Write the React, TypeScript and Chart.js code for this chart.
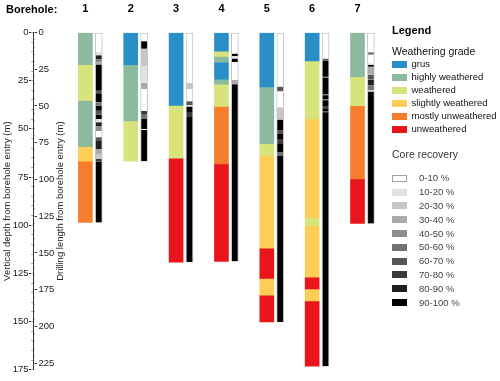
import React, { useEffect, useRef } from 'react';
import { Chart, registerables } from 'chart.js';

Chart.register(...registerables);

const FONT = "'Liberation Sans', Arial, Helvetica, sans-serif";

// ---------- categories / classes ----------
const BOREHOLES = ['1', '2', '3', '4', '5', '6', '7'];

const WEATHERING_GRADES = [
  'grus',
  'highly weathered',
  'weathered',
  'slightly weathered',
  'mostly unweathered',
  'unweathered',
];
const WEATHERING_COLORS = ['#2a8fc7', '#8bba9f', '#d9e37c', '#fdcd56', '#f67d2e', '#e8161b'];

const RECOVERY_CLASSES = [
  '0-10 %', '10-20 %', '20-30 %', '30-40 %', '40-50 %',
  '50-60 %', '60-70 %', '70-80 %', '80-90 %', '90-100 %',
];
const RECOVERY_COLORS = [
  '#ffffff', '#e2e2e2', '#c6c6c6', '#aaaaaa', '#8e8e8e',
  '#717171', '#555555', '#3a3a3a', '#1f1f1f', '#000000',
];

// ---------- axes ----------
const VERTICAL_DEPTH_MAX = 175; // m
const DRILLING_LENGTH_MAX = 229.5; // m
const MAJOR_STEP = 25;
const MINOR_STEP = 5;

// ---------- weathering logs: [from (m drilled), to (m drilled), grade index] ----------
const WEATHERING_1 = [[0, 21.9, 1], [21.9, 46.7, 2], [46.7, 77.7, 1], [77.7, 87.6, 3], [87.6, 129.2, 4]];
const WEATHERING_2 = [[0, 21.9, 0], [21.9, 60.2, 1], [60.2, 87.6, 2]];
const WEATHERING_3 = [[0, 49.6, 0], [49.6, 85.5, 2], [85.5, 156.2, 5]];
const WEATHERING_4 = [[0, 12.7, 0], [12.7, 16.7, 2], [16.7, 20.6, 1], [20.6, 31.8, 0], [31.8, 35.2, 1], [35.2, 50.3, 2], [50.3, 89.4, 4], [89.4, 155.7, 5]];
const WEATHERING_5 = [[0, 37.0, 0], [37.0, 75.7, 1], [75.7, 84.0, 2], [84.0, 146.7, 3], [146.7, 167.7, 5], [167.7, 178.7, 3], [178.7, 196.9, 5]];
const WEATHERING_6 = [[0, 19.4, 0], [19.4, 58.8, 2], [58.8, 126.5, 3], [126.5, 131.4, 2], [131.4, 166.5, 3], [166.5, 174.9, 5], [174.9, 182.7, 3], [182.7, 227.0, 5]];
const WEATHERING_7 = [[0, 30.0, 1], [30.0, 49.8, 2], [49.8, 99.7, 4], [99.7, 129.9, 5]];

// ---------- core recovery logs: [from, to, recovery class index] ----------
const RECOVERY_1 = [[0, 13.2, 0], [13.2, 15.4, 1], [15.4, 18.4, 8], [18.4, 19.9, 5], [19.9, 21.7, 3], [21.7, 39.7, 9], [39.7, 41.3, 6], [41.3, 47.6, 9], [47.6, 49.8, 5], [49.8, 53.2, 9], [53.2, 55.9, 6], [55.9, 58.8, 9], [58.8, 61.1, 1], [61.1, 64.0, 8], [64.0, 67.1, 4], [67.1, 71.2, 0], [71.2, 73.9, 6], [73.9, 79.3, 8], [79.3, 82.6, 3], [82.6, 86.0, 2], [86.0, 88.0, 7], [88.0, 129.2, 9]];
const RECOVERY_2 = [[0, 5.9, 0], [5.9, 11.1, 9], [11.1, 22.8, 2], [22.8, 34.1, 1], [34.1, 38.6, 3], [38.6, 53.2, 0], [53.2, 55.9, 7], [55.9, 58.8, 5], [58.8, 65.6, 9], [65.6, 66.4, 0], [66.4, 87.6, 9]];
const RECOVERY_3 = [[0, 34.3, 0], [34.3, 38.6, 2], [38.6, 46.7, 0], [46.7, 49.6, 6], [49.6, 50.3, 0], [50.3, 54.1, 9], [54.1, 57.0, 7], [57.0, 156.2, 9]];
const RECOVERY_4 = [[0, 14.3, 0], [14.3, 16.1, 9], [16.1, 17.7, 1], [17.7, 20.1, 9], [20.1, 32.2, 0], [32.2, 35.2, 3], [35.2, 155.7, 9]];
const RECOVERY_5 = [[0, 36.8, 0], [36.8, 40.1, 6], [40.1, 50.9, 0], [50.9, 59.2, 2], [59.2, 66.3, 9], [66.3, 68.5, 6], [68.5, 72.5, 9], [72.5, 75.9, 7], [75.9, 81.3, 9], [81.3, 84.0, 5], [84.0, 196.9, 9]];
const RECOVERY_6 = [[0, 17.7, 0], [17.7, 19.2, 6], [19.2, 29.6, 9], [29.6, 30.6, 7], [30.6, 42.2, 9], [42.2, 43.2, 7], [43.2, 45.6, 9], [45.6, 46.6, 7], [46.6, 50.5, 9], [50.5, 51.5, 7], [51.5, 53.8, 9], [53.8, 54.8, 7], [54.8, 227.0, 9]];
const RECOVERY_7 = [[0, 13.4, 0], [13.4, 15.2, 5], [15.2, 21.0, 0], [21.0, 21.9, 1], [21.9, 23.3, 9], [23.3, 28.7, 3], [28.7, 32.0, 6], [32.0, 36.1, 8], [36.1, 39.5, 5], [39.5, 40.1, 0], [40.1, 129.9, 9]];

const WEATHERING_LOGS = [WEATHERING_1, WEATHERING_2, WEATHERING_3, WEATHERING_4, WEATHERING_5, WEATHERING_6, WEATHERING_7];
const RECOVERY_LOGS = [RECOVERY_1, RECOVERY_2, RECOVERY_3, RECOVERY_4, RECOVERY_5, RECOVERY_6, RECOVERY_7];

// layout constants (not data)
const RECOVERY_OFFSET = 0.295;

export default function App() {
  const ref = useRef<HTMLCanvasElement>(null);

  useEffect(() => {
    const canvas = ref.current;
    if (!canvas) return;

    const datasets: any[] = [];
    WEATHERING_GRADES.forEach((grade, gi) => {
      const data: any[] = [];
      WEATHERING_LOGS.forEach((log, bi) => {
        log.forEach(([from, to, g]) => {
          if (g === gi) data.push({ x: bi + 1, y: [from, to] });
        });
      });
      datasets.push({
        label: grade,
        data,
        backgroundColor: WEATHERING_COLORS[gi],
        borderWidth: 0,
        barThickness: 14,
        grouped: false,
        xAxisID: 'x',
        yAxisID: 'yD',
      });
    });
    RECOVERY_CLASSES.forEach((cls, ci) => {
      const data: any[] = [];
      RECOVERY_LOGS.forEach((log, bi) => {
        log.forEach(([from, to, c]) => {
          if (c === ci) data.push({ x: bi + 1 + RECOVERY_OFFSET, y: [from, to] });
        });
      });
      datasets.push({
        label: cls,
        data,
        backgroundColor: RECOVERY_COLORS[ci],
        borderColor: '#c4c4c4',
        borderWidth: (ctx: any) => ({
          left: 1,
          right: 1,
          top: ctx.raw && ctx.raw.y && ctx.raw.y[0] === 0 ? 1 : 0,
          bottom: 0,
        }),
        borderSkipped: false,
        barThickness: 7,
        grouped: false,
        xAxisID: 'x',
        yAxisID: 'yD',
      });
    });

    const tickFont = { family: FONT, size: 9.5 };

    const chart = new Chart(canvas, {
      type: 'bar',
      data: { datasets },
      options: {
        animation: false,
        responsive: false,
        devicePixelRatio: 1,
        events: [],
        layout: { padding: { left: 0, right: 115, top: 0, bottom: 8.3 } },
        plugins: { legend: { display: false }, tooltip: { enabled: false } },
        scales: {
          x: {
            type: 'linear',
            position: 'top',
            min: -0.155,
            max: 7.606,
            offset: false,
            grid: { display: false, drawTicks: false },
            border: { display: false },
            afterBuildTicks: (s: any) => {
              s.ticks = BOREHOLES.map((_, i) => ({ value: i + 1 }));
            },
            afterFit: (s: any) => {
              s.height = 32.5;
            },
            ticks: {
              autoSkip: false,
              maxRotation: 0,
              padding: 16.6,
              color: '#000',
              font: { family: FONT, size: 11, weight: 'bold' },
              callback: (_v: any, i: number) => BOREHOLES[i],
            },
          },
          yV: {
            axis: 'y',
            type: 'linear',
            position: 'left',
            weight: 3,
            min: 0,
            max: VERTICAL_DEPTH_MAX,
            reverse: true,
            ticks: { stepSize: MAJOR_STEP, includeBounds: false, padding: 0.5, color: '#222', font: tickFont },
            grid: { drawOnChartArea: false, drawTicks: true, tickLength: 4, color: '#333', lineWidth: 1 },
            border: { display: true, color: '#333', width: 1 },
            title: {
              display: true,
              text: 'Vertical depth from borehole entry (m)',
              color: '#222',
              font: tickFont,
              padding: { top: 2, bottom: 0 },
            },
            afterFit: (s: any) => {
              s.width = 33;
            },
          },
          yVm: {
            axis: 'y',
            type: 'linear',
            position: 'left',
            weight: 2,
            min: 0,
            max: VERTICAL_DEPTH_MAX,
            reverse: true,
            ticks: { stepSize: MINOR_STEP, includeBounds: false, display: false, maxTicksLimit: 100 },
            grid: { drawOnChartArea: false, drawTicks: true, tickLength: 2, color: '#b0b0b0' },
            border: { display: false },
            afterFit: (s: any) => {
              s.width = 0;
            },
          },
          yD: {
            axis: 'y',
            type: 'linear',
            position: 'left',
            weight: 1,
            min: 0,
            max: DRILLING_LENGTH_MAX,
            reverse: true,
            ticks: { stepSize: MAJOR_STEP, includeBounds: false, mirror: true, padding: 5.5, color: '#222', font: tickFont },
            grid: { drawOnChartArea: false, drawTicks: true, tickLength: -4, color: '#333', lineWidth: 1 },
            border: { display: false },
            title: {
              display: true,
              text: 'Drilling length from borehole entry (m)',
              color: '#222',
              font: tickFont,
              padding: { top: 22, bottom: 0 },
            },
            afterFit: (s: any) => {
              s.width = 0;
            },
          },
          yDm: {
            axis: 'y',
            type: 'linear',
            position: 'left',
            weight: 0,
            min: 0,
            max: DRILLING_LENGTH_MAX,
            reverse: true,
            ticks: { stepSize: MINOR_STEP, includeBounds: false, display: false, maxTicksLimit: 100 },
            grid: { drawOnChartArea: false, drawTicks: true, tickLength: -2, color: '#b0b0b0' },
            border: { display: false },
            afterFit: (s: any) => {
              s.width = 0;
            },
          },
        },
      } as any,
    });

    return () => chart.destroy();
  }, []);

  const text = (extra: any) => ({ position: 'absolute' as const, whiteSpace: 'nowrap' as const, ...extra });

  return (
    <div style={{ position: 'fixed', left: 0, top: 0, width: 500, height: 381, fontFamily: FONT, background: '#fff' }}>
      <canvas ref={ref} width={500} height={381} style={{ position: 'absolute', left: 0, top: 0, width: 500, height: 381 }} />
      <div style={text({ left: 6, top: 2.3, fontSize: 11, fontWeight: 'bold', lineHeight: '14px', color: '#000' })}>Borehole:</div>

      <div style={text({ left: 392, top: 23, fontSize: 11, fontWeight: 'bold', lineHeight: '14px', color: '#000' })}>Legend</div>
      <div style={text({ left: 392, top: 44.5, fontSize: 10.5, lineHeight: '13px', color: '#111' })}>Weathering grade</div>
      {WEATHERING_GRADES.map((g, i) => {
        const c = 64 + 13 * i;
        return (
          <React.Fragment key={g}>
            <div style={{ position: 'absolute', left: 392, top: c - 3.5, width: 15, height: 7, background: WEATHERING_COLORS[i] }} />
            <div style={text({ left: 411.5, top: c - 6, fontSize: 9.5, lineHeight: '12px', color: '#111' })}>{g}</div>
          </React.Fragment>
        );
      })}

      <div style={text({ left: 392, top: 147.5, fontSize: 10.5, lineHeight: '13px', color: '#333' })}>Core recovery</div>
      {RECOVERY_CLASSES.map((r, i) => {
        const c = 178.3 + 13.8 * i;
        return (
          <React.Fragment key={r}>
            <div
              style={{
                position: 'absolute',
                left: 392,
                top: c - 3.5,
                width: 15,
                height: 7,
                boxSizing: 'border-box',
                background: RECOVERY_COLORS[i],
                border: i === 0 ? '1px solid #a0a0a0' : 'none',
              }}
            />
            <div style={text({ left: 419, top: c - 6, fontSize: 9.5, lineHeight: '12px', color: '#444' })}>{r}</div>
          </React.Fragment>
        );
      })}
    </div>
  );
}
